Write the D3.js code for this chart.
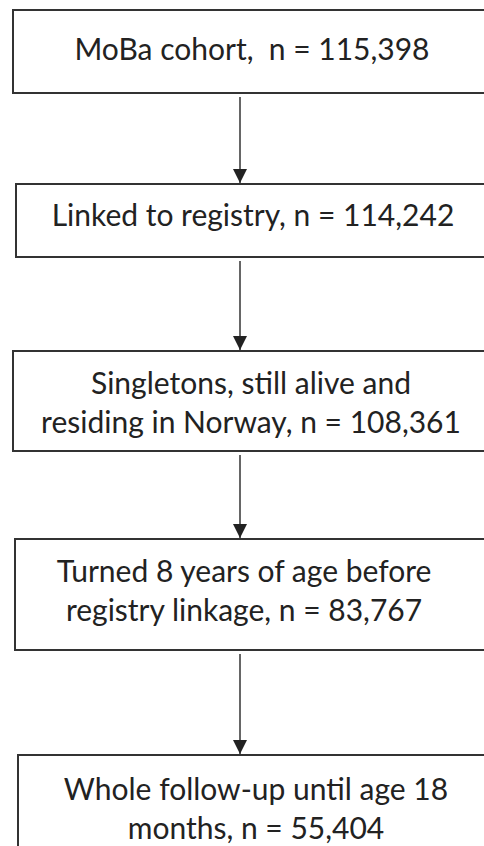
<!DOCTYPE html>
<html lang="en">
<head>
<meta charset="UTF-8">
<title>MoBa cohort flowchart</title>
<style>
  body { margin: 0; background: #fff; }
  svg { display: block; }
  .box { fill: #fff; stroke: #333; stroke-width: 2px; }
  .link { stroke: #333; stroke-width: 1.5px; }
  .label { font-family: Lato, "Open Sans", sans-serif; font-size: 30px; fill: #222; white-space: pre; }
</style>
</head>
<body>
<div id="chart"></div>
<script src="https://cdn.jsdelivr.net/npm/d3@7"></script>
<script>
// stage texts, {n} is replaced with the count
var stageLines = [
  ["MoBa cohort,  n = {n}"],
  ["Linked to registry, n = {n}"],
  ["Singletons, still alive and", "residing in Norway, n = {n}"],
  ["Turned 8 years of age before", "registry linkage, n = {n}"],
  ["Whole follow-up until age 18", "months, n = {n}"]
];
var counts = [115398, 114242, 108361, 83767, 55404];

// layout (pixels)
var width = 484, height = 846;
var boxTop = [10, 184, 351, 539, 755];
var boxBottom = [93, 257, 451, 650, 870];
var boxLeft = [13, 16, 13, 15, 18];
var textCenter = [252, 253, 251, 244, 256];
var baseline = [50, 42, 43, 43, 45]; // first text line, from box top
var lineGap = 39;
var arrowX = 240;

var fmt = d3.format(",");

var svg = d3.select("#chart").append("svg")
  .attr("width", width)
  .attr("height", height);

svg.append("defs").append("marker")
  .attr("id", "head")
  .attr("viewBox", "0 0 10 10")
  .attr("refX", 10)
  .attr("refY", 5)
  .attr("markerWidth", 14)
  .attr("markerHeight", 14)
  .attr("markerUnits", "userSpaceOnUse")
  .attr("orient", "auto")
  .append("path")
  .attr("d", "M0,0L10,5L0,10Z")
  .attr("fill", "#222");

var stages = counts.map(function(c, i) {
  return {
    lines: stageLines[i].map(function(s) { return s.replace("{n}", fmt(c)); }),
    top: boxTop[i], bottom: boxBottom[i], left: boxLeft[i],
    cx: textCenter[i], base: baseline[i]
  };
});

// arrows between boxes
svg.selectAll(".link")
  .data(d3.pairs(stages))
  .enter().append("line")
  .attr("class", "link")
  .attr("x1", arrowX)
  .attr("x2", arrowX)
  .attr("y1", function(p) { return p[0].bottom + 4; })
  .attr("y2", function(p) { return p[1].top - 1; })
  .attr("marker-end", "url(#head)");

var g = svg.selectAll(".stage")
  .data(stages)
  .enter().append("g")
  .attr("class", "stage");

g.append("rect")
  .attr("class", "box")
  .attr("x", function(d) { return d.left; })
  .attr("y", function(d) { return d.top; })
  .attr("width", function(d) { return width + 20 - d.left; })
  .attr("height", function(d) { return d.bottom - d.top; });

g.each(function(d) {
  d3.select(this).selectAll("text")
    .data(d.lines)
    .enter().append("text")
    .attr("class", "label")
    .attr("x", d.cx)
    .attr("y", function(s, j) { return d.top + d.base + j * lineGap; })
    .attr("text-anchor", "middle")
    .text(function(s) { return s; });
});
</script>
</body>
</html>
